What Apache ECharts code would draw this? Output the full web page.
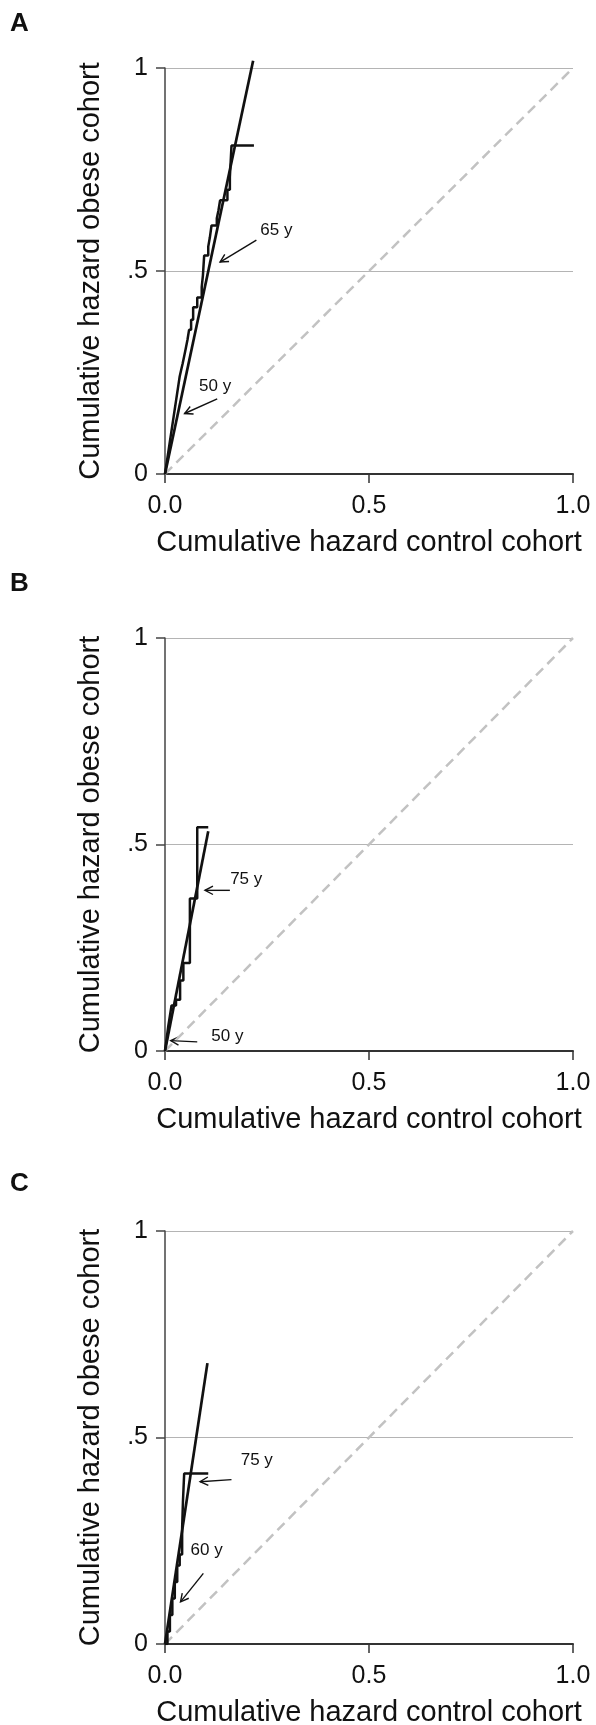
<!DOCTYPE html>
<html style="height: 100%">
<head>
    <meta charset="utf-8">
</head>
<body style="height: 100%; margin: 0; background: #fff">
<div id="container" style="width: 596px; height: 1725px"></div>

<script type="text/javascript" src="https://cdn.jsdelivr.net/npm/echarts@6/dist/echarts.min.js"></script>

<script type="text/javascript">
    var dom = document.getElementById("container");
    var myChart = echarts.init(dom);

    // panel letters, tick labels, axis titles
    var panelNames = ['A', 'B', 'C'];
    var xTickLabels = ['0.0', '0.5', '1.0'];
    var yTickLabels = ['0', '.5', '1'];
    var xTitle = 'Cumulative hazard control cohort';
    var yTitle = 'Cumulative hazard obese cohort';

    // line of equality
    var diagonal = [[0, 0], [1, 1]];

    // cumulative hazard obese vs control (step curve) and fitted line
    var stepA = [[0, 0], [0.003, 0.02], [0.006, 0.04], [0.009, 0.06], [0.012, 0.08], [0.015, 0.10],
        [0.018, 0.12], [0.021, 0.14], [0.024, 0.16], [0.027, 0.18], [0.030, 0.20], [0.033, 0.22],
        [0.036, 0.24], [0.040, 0.258], [0.043, 0.271], [0.047, 0.29], [0.051, 0.31], [0.055, 0.33],
        [0.059, 0.355], [0.064, 0.38], [0.069, 0.411], [0.079, 0.435], [0.090, 0.46], [0.093, 0.49],
        [0.096, 0.538], [0.106, 0.56], [0.110, 0.583], [0.114, 0.612], [0.127, 0.63], [0.131, 0.649],
        [0.135, 0.674], [0.153, 0.70], [0.159, 0.731], [0.163, 0.809], [0.218, 0.809]];
    var fitA = [[0, 0], [0.216, 1.018]];

    var stepB = [[0, 0], [0.004, 0.03], [0.008, 0.06], [0.012, 0.085], [0.016, 0.11], [0.027, 0.124],
        [0.037, 0.171], [0.045, 0.213], [0.061, 0.369], [0.079, 0.542], [0.106, 0.542]];
    var fitB = [[0, 0], [0.106, 0.532]];

    var stepC = [[0, 0], [0.006, 0.03], [0.012, 0.07], [0.018, 0.11], [0.024, 0.15], [0.03, 0.19],
        [0.036, 0.217], [0.042, 0.28], [0.044, 0.345], [0.047, 0.413], [0.106, 0.413]];
    var fitC = [[0, 0], [0.104, 0.680]];

    // age annotations: label, text position, arrow tail, arrow head
    var notesA = [
        {label: '65 y', text: [0.273, 0.600], tail: [0.224, 0.576], head: [0.135, 0.522]},
        {label: '50 y', text: [0.123, 0.215], tail: [0.128, 0.185], head: [0.048, 0.149]}
    ];
    var notesB = [
        {label: '75 y', text: [0.199, 0.416], tail: [0.159, 0.389], head: [0.098, 0.389]},
        {label: '50 y', text: [0.153, 0.035], tail: [0.079, 0.022], head: [0.014, 0.025]}
    ];
    var notesC = [
        {label: '75 y', text: [0.225, 0.445], tail: [0.163, 0.398], head: [0.086, 0.393]},
        {label: '60 y', text: [0.102, 0.227], tail: [0.094, 0.171], head: [0.038, 0.102]}
    ];

    var panels = [
        {step: stepA, fit: fitA, notes: notesA, top: 68, height: 406},
        {step: stepB, fit: fitB, notes: notesB, top: 638, height: 413},
        {step: stepC, fit: fitC, notes: notesC, top: 1231, height: 413}
    ];
    var letterTops = [11, 571, 1171];

    var font = 'Arial, "Liberation Sans", sans-serif';

    var option = {
        animation: false,
        backgroundColor: '#fff',
        title: [],
        grid: [],
        xAxis: [],
        yAxis: [],
        series: []
    };

    panels.forEach(function (p, i) {
        option.title.push({
            text: panelNames[i],
            left: 10,
            top: letterTops[i],
            padding: 0,
            textStyle: {fontSize: 26, fontWeight: 'bold', color: '#111', fontFamily: font}
        });
        option.grid.push({
            left: 165, top: p.top, width: 408, height: p.height,
            outerBoundsMode: 'none'
        });
        option.xAxis.push({
            gridIndex: i,
            type: 'value',
            min: 0, max: 1, interval: 0.5,
            name: xTitle,
            nameLocation: 'middle',
            nameGap: 54,
            nameTextStyle: {fontSize: 29, color: '#111', fontFamily: font},
            axisLine: {show: true, onZero: false, lineStyle: {color: '#333', width: 2}},
            axisTick: {show: true, length: 9, lineStyle: {color: '#333', width: 1.5}},
            axisLabel: {
                margin: 20, fontSize: 25, color: '#111', fontFamily: font,
                formatter: function (v) { return xTickLabels[Math.round(v * 2)]; }
            },
            splitLine: {show: false}
        });
        option.yAxis.push({
            gridIndex: i,
            type: 'value',
            min: 0, max: 1, interval: 0.5,
            name: yTitle,
            nameLocation: 'middle',
            nameGap: 60,
            nameTextStyle: {fontSize: 29, color: '#111', fontFamily: font},
            axisLine: {show: true, lineStyle: {color: '#444', width: 1.5}},
            axisTick: {show: true, length: 9, lineStyle: {color: '#444', width: 1.5}},
            axisLabel: {
                margin: 17, fontSize: 25, color: '#111', fontFamily: font,
                formatter: function (v) { return yTickLabels[Math.round(v * 2)]; }
            },
            splitLine: {show: true, lineStyle: {color: '#b4b4b4', width: 1}}
        });

        option.series.push({
            type: 'line', xAxisIndex: i, yAxisIndex: i,
            data: diagonal, symbol: 'none', silent: true,
            lineStyle: {color: '#c2c2c2', width: 2.5, type: [10, 6]}
        });
        option.series.push({
            type: 'line', xAxisIndex: i, yAxisIndex: i,
            data: p.step, step: 'end', symbol: 'none', silent: true,
            lineStyle: {color: '#111', width: 2.5}
        });
        option.series.push({
            type: 'line', xAxisIndex: i, yAxisIndex: i,
            data: p.fit, symbol: 'none', silent: true, clip: false,
            lineStyle: {color: '#111', width: 2.7}
        });

        var notes = p.notes;
        option.series.push({
            type: 'custom', xAxisIndex: i, yAxisIndex: i, silent: true, clip: false,
            data: notes.map(function (n) {
                return [n.tail[0], n.tail[1], n.head[0], n.head[1], n.text[0], n.text[1]];
            }),
            encode: {x: [0, 2, 4], y: [1, 3, 5]},
            renderItem: function (params, api) {
                var tail = api.coord([api.value(0), api.value(1)]);
                var head = api.coord([api.value(2), api.value(3)]);
                var txt = api.coord([api.value(4), api.value(5)]);
                var ang = Math.atan2(tail[1] - head[1], tail[0] - head[0]);
                var len = 9, spread = 0.48;
                var p1 = [head[0] + len * Math.cos(ang + spread), head[1] + len * Math.sin(ang + spread)];
                var p2 = [head[0] + len * Math.cos(ang - spread), head[1] + len * Math.sin(ang - spread)];
                return {
                    type: 'group',
                    children: [
                        {
                            type: 'line',
                            shape: {x1: tail[0], y1: tail[1], x2: head[0], y2: head[1]},
                            style: {stroke: '#111', lineWidth: 1.4}
                        },
                        {
                            type: 'polyline',
                            shape: {points: [p1, head, p2]},
                            style: {stroke: '#111', lineWidth: 1.4, fill: 'none'}
                        },
                        {
                            type: 'text',
                            x: txt[0], y: txt[1],
                            style: {
                                text: notes[params.dataIndex].label,
                                fontSize: 17, fontFamily: font, fill: '#111',
                                align: 'center', verticalAlign: 'middle'
                            }
                        }
                    ]
                };
            }
        });
    });

    if (option && typeof option === 'object') {
        myChart.setOption(option);
    }
</script>
</body>
</html>
